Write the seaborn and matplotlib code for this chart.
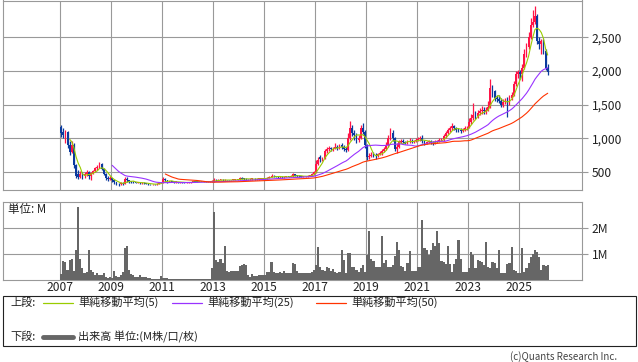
import numpy as np
import pandas as pd
import matplotlib
matplotlib.use("Agg")
import matplotlib.pyplot as plt
from matplotlib.lines import Line2D
from matplotlib.patches import Rectangle
from matplotlib.ticker import FuncFormatter
import seaborn as sns

# monthly bars, Jan 2007 .. Feb 2026 (one row per year)
open_px = [
    1170, 1100, 950, 1100, 900, 800, 900, 600, 480, 430, 470, 440,
    470, 500, 450, 490, 520, 560, 580, 620, 550, 480, 420, 400,
    410, 380, 350, 330, 320, 340, 330, 400, 380, 360, 355, 350,
    345, 350, 340, 345, 335, 330, 325, 320, 325, 320, 330, 340,
    350, 400, 380, 360, 365, 360, 355, 355, 350, 350, 348, 345,
    350, 352, 355, 365, 360, 355, 355, 358, 360, 358, 362, 365,
    370, 385, 380, 385, 390, 380, 385, 382, 380, 385, 388, 390,
    395, 410, 405, 400, 398, 395, 400, 402, 398, 400, 402, 405,
    408, 412, 420, 430, 450, 440, 435, 430, 432, 428, 432, 435,
    432, 440, 470, 450, 445, 440, 435, 440, 442, 445, 450, 470,
    500, 620, 720, 690, 710, 820, 850, 860, 840, 850, 880, 860,
    900, 880, 850, 830, 1000, 1150, 1080, 1050, 980, 1000, 1150, 1100,
    900, 720, 740, 770, 760, 740, 770, 780, 820, 850, 900, 1000,
    1080, 1000, 850, 880, 950, 960, 950, 940, 960, 970, 950, 960,
    980, 990, 1000, 960, 940, 950, 960, 940, 930, 950, 960, 980,
    990, 1030, 1080, 1120, 1150, 1180, 1150, 1130, 1120, 1110, 1130, 1150,
    1160, 1250, 1300, 1350, 1330, 1380, 1400, 1420, 1400, 1420, 1470, 1750,
    1700, 1600, 1580, 1560, 1500, 1540, 1560, 1550, 1600, 1650, 1800, 1950,
    1980, 1950, 2050, 2250, 2350, 2500, 2680, 2720, 2820, 2450, 2400, 2450,
    2300, 2050,
]
high_px = [
    1200, 1150, 1130, 1110, 960, 960, 940, 620, 530, 520, 500, 510,
    530, 520, 510, 540, 580, 610, 650, 630, 560, 490, 440, 440,
    420, 390, 360, 345, 350, 355, 430, 430, 390, 370, 365, 360,
    360, 355, 355, 350, 340, 340, 330, 330, 330, 335, 345, 355,
    430, 410, 390, 375, 370, 365, 362, 360, 355, 355, 352, 355,
    358, 360, 370, 372, 365, 360, 362, 365, 365, 368, 372, 385,
    410, 395, 395, 400, 400, 395, 390, 388, 392, 395, 398, 402,
    430, 425, 415, 410, 405, 408, 410, 408, 408, 410, 412, 418,
    420, 430, 440, 470, 458, 448, 442, 440, 438, 440, 442, 440,
    455, 490, 480, 458, 452, 448, 448, 450, 452, 460, 485, 520,
    680, 720, 750, 730, 850, 880, 890, 880, 870, 930, 900, 920,
    930, 900, 870, 1080, 1260, 1200, 1120, 1080, 1050, 1200, 1230, 1120,
    920, 780, 800, 800, 790, 790, 810, 850, 880, 950, 1050, 1150,
    1120, 1020, 930, 980, 990, 990, 970, 980, 1000, 990, 985, 1000,
    1020, 1030, 1050, 980, 970, 985, 980, 960, 975, 985, 1000, 1010,
    1060, 1110, 1160, 1190, 1230, 1200, 1170, 1160, 1150, 1160, 1180, 1190,
    1300, 1370, 1520, 1400, 1420, 1450, 1480, 1460, 1470, 1560, 1880, 1790,
    1720, 1650, 1640, 1600, 1580, 1600, 1610, 1640, 1690, 1850, 2000, 2010,
    2020, 2100, 2320, 2420, 2580, 2780, 2900, 2960, 2850, 2500, 2480, 2480,
    2320, 2100,
]
low_px = [
    1020, 1000, 940, 860, 750, 780, 560, 420, 400, 410, 400, 420,
    440, 400, 380, 470, 500, 540, 570, 530, 460, 380, 370, 380,
    360, 330, 310, 300, 305, 310, 320, 360, 345, 340, 335, 335,
    335, 330, 330, 325, 320, 315, 310, 315, 315, 315, 325, 335,
    345, 360, 340, 350, 350, 345, 348, 340, 342, 340, 338, 340,
    345, 348, 350, 352, 350, 350, 350, 352, 352, 354, 356, 360,
    360, 370, 372, 378, 372, 372, 375, 372, 375, 378, 380, 385,
    390, 395, 390, 388, 388, 390, 392, 390, 390, 392, 395, 398,
    400, 405, 412, 425, 430, 428, 422, 422, 420, 420, 425, 425,
    425, 430, 440, 435, 432, 428, 430, 432, 435, 438, 445, 465,
    490, 600, 650, 670, 700, 790, 820, 820, 820, 840, 830, 840,
    850, 820, 800, 820, 980, 1030, 980, 940, 950, 990, 1060, 860,
    680, 690, 720, 730, 700, 720, 750, 760, 800, 830, 880, 980,
    960, 820, 780, 860, 930, 930, 920, 925, 940, 930, 935, 950,
    960, 970, 930, 910, 920, 935, 920, 910, 915, 935, 945, 960,
    970, 1010, 1060, 1100, 1130, 1120, 1100, 1090, 1080, 1090, 1110, 1120,
    1150, 1220, 1280, 1290, 1310, 1350, 1370, 1360, 1370, 1400, 1450, 1620,
    1560, 1540, 1520, 1460, 1470, 1510, 1320, 1500, 1570, 1630, 1780, 1900,
    1880, 1850, 2030, 2200, 2320, 2480, 2650, 2700, 2400, 2330, 2250, 2250,
    2020, 1940,
]
close_px = [
    1080, 1050, 1110, 900, 800, 900, 600, 450, 430, 470, 440, 470,
    500, 450, 490, 520, 560, 580, 620, 550, 480, 420, 400, 410,
    380, 350, 330, 320, 340, 330, 400, 380, 360, 355, 350, 345,
    350, 340, 345, 335, 330, 325, 320, 325, 320, 330, 340, 345,
    400, 380, 360, 365, 360, 355, 355, 350, 350, 348, 345, 350,
    352, 355, 365, 360, 355, 355, 358, 360, 358, 362, 365, 370,
    385, 380, 385, 390, 380, 385, 382, 380, 385, 388, 390, 395,
    410, 405, 400, 398, 395, 400, 402, 398, 400, 402, 405, 408,
    412, 420, 430, 450, 440, 435, 430, 432, 428, 432, 435, 432,
    440, 470, 450, 445, 440, 435, 440, 442, 445, 450, 470, 500,
    620, 680, 690, 710, 820, 850, 860, 840, 850, 880, 860, 900,
    880, 850, 830, 1000, 1150, 1080, 1050, 980, 1000, 1150, 1100, 900,
    720, 740, 760, 760, 740, 770, 780, 820, 850, 900, 1000, 1080,
    1000, 850, 880, 950, 960, 950, 940, 960, 970, 950, 960, 980,
    990, 1000, 960, 940, 950, 960, 940, 930, 950, 960, 980, 990,
    1030, 1080, 1120, 1150, 1180, 1150, 1130, 1120, 1110, 1130, 1150, 1160,
    1250, 1300, 1350, 1330, 1380, 1400, 1420, 1400, 1420, 1470, 1750, 1700,
    1600, 1580, 1560, 1500, 1540, 1560, 1550, 1600, 1650, 1800, 1950, 1980,
    1950, 2050, 2250, 2350, 2500, 2680, 2720, 2820, 2450, 2400, 2450, 2300,
    2050, 1980,
]
volume_m = [
    0.25, 0.74, 0.70, 0.38, 0.77, 0.80, 0.35, 1.15, 2.82, 0.83, 0.45, 0.26,
    0.32, 1.15, 0.38, 0.30, 0.18, 0.26, 0.20, 0.18, 0.28, 0.12, 0.08, 0.10,
    0.07, 0.35, 0.15, 0.10, 0.19, 0.32, 1.22, 1.31, 0.38, 0.25, 0.19, 0.13,
    0.10, 0.19, 0.13, 0.10, 0.12, 0.08, 0.06, 0.05, 0.04, 0.03, 0.04, 0.15,
    0.09, 0.08, 0.06, 0.05, 0.03, 0.02, 0.02, 0.02, 0.02, 0.02, 0.02, 0.02,
    0.02, 0.03, 0.04, 0.05, 0.03, 0.02, 0.02, 0.02, 0.02, 0.03, 0.05, 0.46,
    2.63, 0.77, 0.71, 0.83, 0.64, 1.31, 0.36, 0.32, 0.35, 0.35, 0.35, 0.36,
    0.54, 0.58, 0.62, 0.58, 0.19, 0.13, 0.23, 0.15, 0.15, 0.19, 0.19, 0.18,
    0.19, 0.32, 0.32, 0.69, 0.32, 0.28, 0.28, 0.32, 0.28, 0.36, 0.26, 0.28,
    0.28, 0.64, 0.62, 0.36, 0.28, 0.28, 0.26, 0.28, 0.26, 0.28, 0.32, 0.38,
    0.58, 1.26, 0.51, 0.38, 0.36, 0.51, 0.45, 0.36, 0.41, 0.32, 0.26, 0.32,
    1.18, 0.77, 0.26, 1.05, 1.03, 0.51, 0.49, 0.38, 0.32, 0.45, 0.58, 0.32,
    0.96, 1.88, 0.80, 0.73, 0.49, 0.51, 0.50, 1.69, 0.64, 0.77, 0.51, 0.49,
    0.58, 0.92, 1.46, 1.15, 0.54, 0.51, 0.36, 0.67, 1.12, 0.36, 0.36, 0.36,
    0.51, 0.49, 2.31, 1.22, 1.15, 0.96, 1.18, 1.44, 1.30, 1.88, 1.44, 0.73,
    0.68, 0.62, 1.31, 0.62, 0.32, 0.62, 0.83, 1.54, 0.80, 0.32, 0.32, 0.32,
    0.45, 1.09, 0.96, 0.45, 0.77, 0.73, 0.71, 0.60, 1.46, 0.51, 0.45, 0.71,
    0.64, 0.45, 1.15, 0.28, 0.28, 0.28, 0.62, 0.64, 1.26, 0.38, 0.35, 0.28,
    0.28, 1.22, 0.32, 0.45, 0.64, 0.90, 1.00, 1.15, 1.09, 0.90, 0.38, 0.58,
    0.54, 0.58,
]
price_ticks = [500, 1000, 1500, 2000, 2500]
year_ticks = list(range(2007, 2026, 2))

df = pd.DataFrame({"open": open_px, "high": high_px, "low": low_px,
                   "close": close_px, "volume": volume_m})
df["t"] = 2007 + (np.arange(len(df)) + 0.5) / 12
df["ma5"] = df["close"].rolling(5).mean()
df["ma25"] = df["close"].rolling(25).mean()
df["ma50"] = df["close"].rolling(50).mean()

UP, DOWN = "#FF1447", "#0A3A9E"
C5, C25, C50 = "#99CC00", "#9933FF", "#FF3300"
GRID = "#999999"

sns.set_style("white")
plt.rcParams["font.family"] = ["Noto Sans CJK JP", "DejaVu Sans"]

W, H = 638, 362
fig = plt.figure(figsize=(W / 100, H / 100), dpi=100)
ax1 = fig.add_axes([3 / W, 1 - 190 / H, 579 / W, 189.5 / H])
ax2 = fig.add_axes([3 / W, 1 - 280 / H, 579 / W, 78 / H], sharex=ax1)

# candles
up = df["close"] >= df["open"]
cols = np.where(up, UP, DOWN)
ax1.vlines(df["t"], df["low"], df["high"], colors=cols, linewidth=0.9, zorder=3)
ax1.bar(df["t"], (df["close"] - df["open"]).abs().clip(lower=8),
        bottom=np.minimum(df["open"], df["close"]), width=0.07,
        color=cols, linewidth=0, zorder=3)

sns.lineplot(x=df["t"], y=df["ma5"], ax=ax1, color=C5, linewidth=0.8, zorder=4)
sns.lineplot(x=df["t"], y=df["ma25"], ax=ax1, color=C25, linewidth=0.8, zorder=4)
sns.lineplot(x=df["t"], y=df["ma50"], ax=ax1, color=C50, linewidth=0.8, zorder=4)

ax2.bar(df["t"], df["volume"], width=1 / 12, color="#666666", linewidth=0, zorder=3)

for ax in (ax1, ax2):
    ax.set_xlim(2004.76, 2027.47)
    ax.set_xticks(year_ticks)
    ax.grid(True, color=GRID, linewidth=0.8)
    ax.set_axisbelow(True)
    ax.yaxis.tick_right()
    ax.set_xlabel("")
    ax.set_ylabel("")
    for s in ax.spines.values():
        s.set_color(GRID)
        s.set_linewidth(0.8)
    ax.tick_params(axis="y", direction="out", length=4, color=GRID, width=0.8,
                   labelsize=8.7, labelcolor="#222222", pad=3)

ax1.set_ylim(237, 3044)
ax1.set_yticks(price_ticks)
ax1.yaxis.set_major_formatter(FuncFormatter(lambda v, p: f"{v:,.0f}"))
ax1.tick_params(axis="x", length=0, labelbottom=False)

ax2.set_ylim(0, 3.02)
ax2.set_yticks([1, 2])
ax2.set_yticklabels(["1M", "2M"])
ax2.tick_params(axis="x", length=0, labelsize=8.7, labelcolor="#222222", pad=1)
ax2.text(5 / 579, 1 - 8 / 78, "単位: M", transform=ax2.transAxes, fontsize=8.3,
         ha="left", va="center", color="#222222")

# legend box
fig.add_artist(Rectangle((3 / W, 1 - 346 / H), 633 / W, 50 / H, transform=fig.transFigure,
                         fill=False, edgecolor="#222222", linewidth=0.8))
r1, r2 = 1 - 302.5 / H, 1 - 336.5 / H
fs = 8
fig.text(10 / W, r1, "上段:", fontsize=fs, va="center", color="#222222")
fig.text(10 / W, r2, "下段:", fontsize=fs, va="center", color="#222222")
for x0, c, lab in [(43, C5, "単純移動平均(5)"), (172, C25, "単純移動平均(25)"),
                   (316, C50, "単純移動平均(50)")]:
    fig.add_artist(Line2D([x0 / W, (x0 + 30) / W], [r1, r1], transform=fig.transFigure,
                          color=c, linewidth=0.9))
    fig.text((x0 + 35) / W, r1, lab, fontsize=fs, va="center", color="#222222")
fig.add_artist(Line2D([43 / W, 73 / W], [r2, r2], transform=fig.transFigure,
                      color="#666666", linewidth=3.5))
fig.text(78 / W, r2, "出来高 単位:(M株/口/枚)", fontsize=fs, va="center", color="#222222")
fig.text(617 / W, 1 - 356.5 / H, "(c)Quants Research Inc.", fontsize=7, ha="right",
         va="center", color="#444444")

fig.savefig("out.png", dpi=100)
